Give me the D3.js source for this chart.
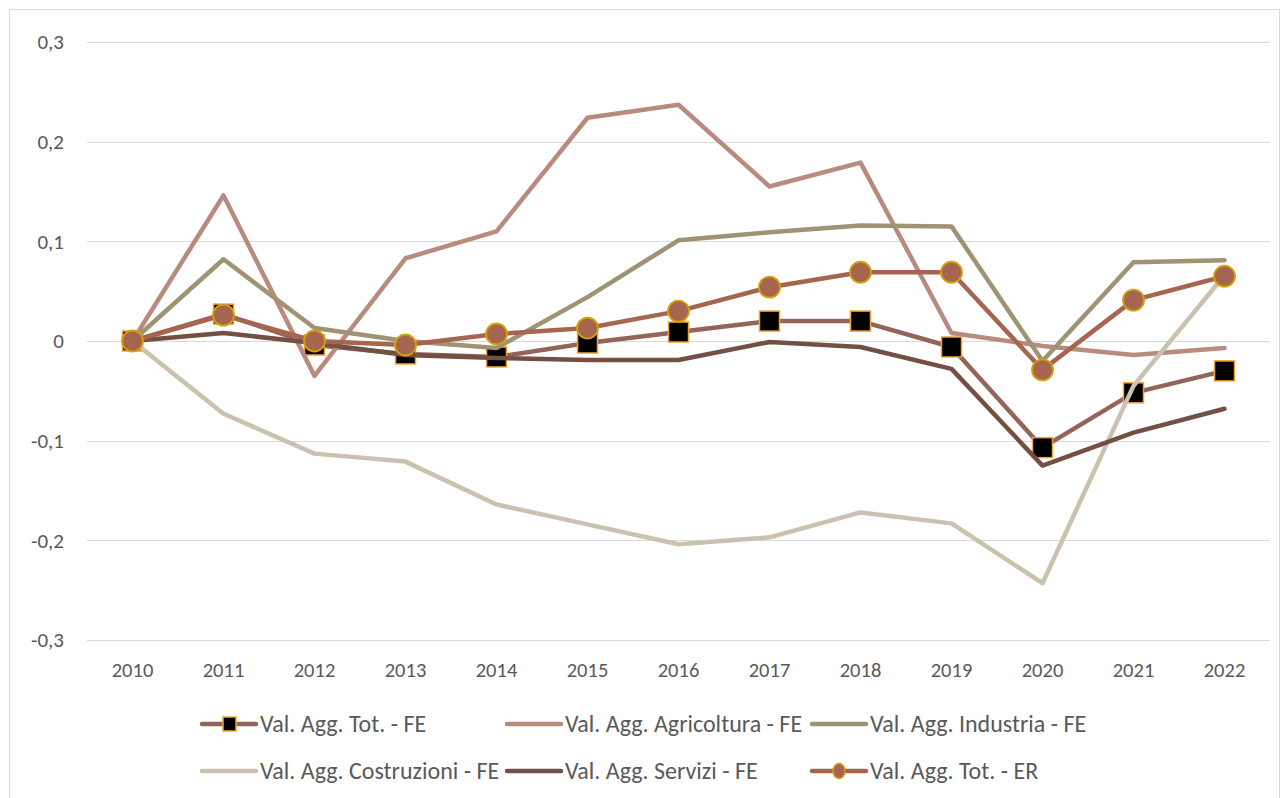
<!DOCTYPE html>
<html>
<head>
<meta charset="utf-8">
<script src="https://cdn.jsdelivr.net/npm/d3@7"></script>
<style>
  body { margin: 0; background: #fff; }
  svg text { font-family: Carlito, Lato, "Open Sans", sans-serif; fill: #595959; }
</style>
</head>
<body>
<div id="chart"></div>
<script>
const years = ['2010', '2011', '2012', '2013', '2014', '2015', '2016', '2017', '2018', '2019', '2020', '2021', '2022'];
const yTicks = [-0.3, -0.2, -0.1, 0, 0.1, 0.2, 0.3];

const totFE = [0, 0.027, -0.004, -0.013, -0.016, -0.002, 0.009, 0.020, 0.020, -0.006, -0.107, -0.052, -0.030];
const agricoltura = [0, 0.146, -0.035, 0.083, 0.110, 0.224, 0.237, 0.155, 0.179, 0.008, -0.005, -0.014, -0.007];
const industria = [0, 0.082, 0.013, 0.0, -0.007, 0.044, 0.101, 0.109, 0.116, 0.115, -0.020, 0.079, 0.081];
const costruzioni = [0, -0.073, -0.113, -0.121, -0.164, -0.184, -0.204, -0.197, -0.172, -0.183, -0.243, -0.045, 0.066];
const servizi = [0, 0.008, -0.002, -0.014, -0.017, -0.019, -0.019, -0.001, -0.006, -0.028, -0.125, -0.092, -0.068];
const totER = [0, 0.026, 0.0, -0.004, 0.007, 0.013, 0.030, 0.054, 0.069, 0.069, -0.029, 0.041, 0.065];

const series = [
    { name: 'Val. Agg. Tot. - FE', values: totFE, color: '#94645A', marker: 'square' },
    { name: 'Val. Agg. Agricoltura - FE', values: agricoltura, color: '#B98B7F' },
    { name: 'Val. Agg. Industria - FE', values: industria, color: '#A09373' },
    { name: 'Val. Agg. Costruzioni - FE', values: costruzioni, color: '#CAC1AF' },
    { name: 'Val. Agg. Servizi - FE', values: servizi, color: '#734F44' },
    { name: 'Val. Agg. Tot. - ER', values: totER, color: '#A6654F', marker: 'circle' }
];

const width = 1283, height = 798;
const margin = { top: 42, right: 13, bottom: 158, left: 87 };

const svg = d3.select('#chart').append('svg')
    .attr('width', width)
    .attr('height', height);

// chart area border
svg.append('rect')
    .attr('x', 9.5).attr('y', 9.5)
    .attr('width', 1270).attr('height', 800)
    .attr('fill', 'none')
    .attr('stroke', '#d9d9d9');

const x = d3.scaleBand().domain(years).range([margin.left, width - margin.right]);
const y = d3.scaleLinear().domain([-0.3, 0.3]).range([height - margin.bottom, margin.top]);
const cx = d => x(d) + x.bandwidth() / 2;

// gridlines
svg.append('g')
    .selectAll('line')
    .data(yTicks)
    .join('line')
    .attr('x1', margin.left)
    .attr('x2', width - margin.right)
    .attr('y1', d => Math.round(y(d)) + 0.5)
    .attr('y2', d => Math.round(y(d)) + 0.5)
    .attr('stroke', '#d9d9d9')
    .attr('stroke-width', 1);

const fmt = d => d === 0 ? '0' : d3.format('.1f')(d).replace('.', ',').replace('−', '-');

svg.append('g')
    .selectAll('text')
    .data(yTicks)
    .join('text')
    .attr('x', 64)
    .attr('y', d => y(d))
    .attr('dy', '0.35em')
    .attr('text-anchor', 'end')
    .style('font-size', '21px')
    .text(fmt);

svg.append('g')
    .selectAll('text')
    .data(years)
    .join('text')
    .attr('x', d => cx(d))
    .attr('y', 677)
    .attr('text-anchor', 'middle')
    .style('font-size', '20.5px')
    .text(d => d);

const line = d3.line()
    .x((d, i) => cx(years[i]))
    .y(d => y(d));

function drawMarker(g, type, px, py) {
    if (type === 'square') {
        g.append('rect')
            .attr('x', px - 10).attr('y', py - 10)
            .attr('width', 20).attr('height', 20)
            .attr('fill', '#000')
            .attr('stroke', '#F4A232')
            .attr('stroke-width', 1.5);
    } else if (type === 'circle') {
        g.append('circle')
            .attr('cx', px).attr('cy', py)
            .attr('r', 10.5)
            .attr('fill', '#A6654F')
            .attr('stroke', '#D4A00C')
            .attr('stroke-width', 1.8);
    }
}

series.forEach(s => {
    const g = svg.append('g');
    g.append('path')
        .datum(s.values)
        .attr('d', line)
        .attr('fill', 'none')
        .attr('stroke', s.color)
        .attr('stroke-width', 4.5)
        .attr('stroke-linejoin', 'round')
        .attr('stroke-linecap', 'round');
    if (s.marker) {
        s.values.forEach((v, i) => drawMarker(g, s.marker, cx(years[i]), y(v)));
    }
});

// legend
const legendPos = [
    [202, 724], [507, 724], [812, 724],
    [202, 771], [507, 771], [812, 771]
];
const legend = svg.append('g').attr('class', 'legend');
series.forEach((s, i) => {
    const [lx, ly] = legendPos[i];
    const g = legend.append('g');
    g.append('line')
        .attr('x1', lx).attr('x2', lx + 54)
        .attr('y1', ly).attr('y2', ly)
        .attr('stroke', s.color)
        .attr('stroke-width', 4.5)
        .attr('stroke-linecap', 'round');
    if (s.marker === 'square') {
        g.append('rect')
            .attr('x', lx + 21).attr('y', ly - 7)
            .attr('width', 13).attr('height', 14)
            .attr('fill', '#000')
            .attr('stroke', '#F4A232')
            .attr('stroke-width', 1.5);
    } else if (s.marker === 'circle') {
        g.append('ellipse')
            .attr('cx', lx + 27).attr('cy', ly)
            .attr('rx', 6).attr('ry', 7.5)
            .attr('fill', '#A6654F')
            .attr('stroke', '#D4A00C')
            .attr('stroke-width', 1.5);
    }
    g.append('text')
        .attr('x', lx + 58)
        .attr('y', ly)
        .attr('dy', '0.35em')
        .style('font-size', '24px')
        .text(s.name);
});
</script>
</body>
</html>
